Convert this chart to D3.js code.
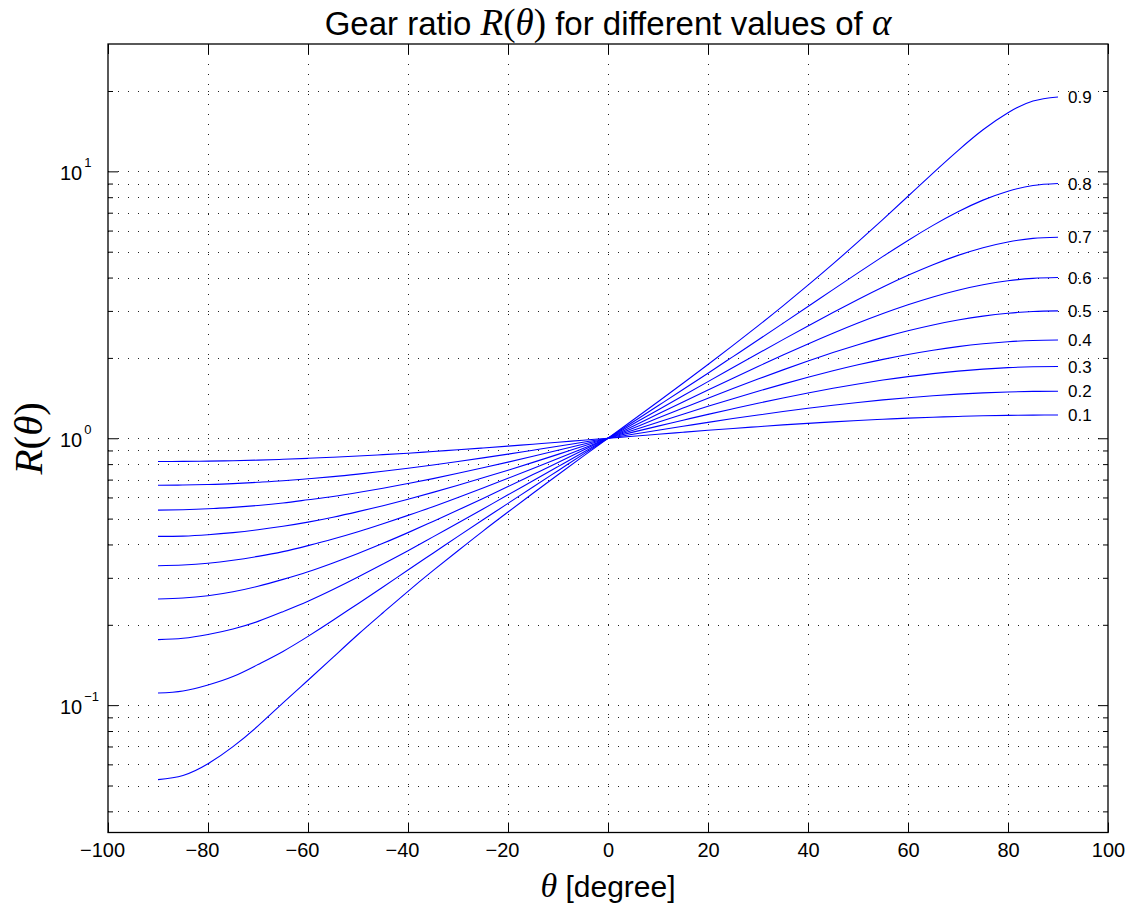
<!DOCTYPE html>
<html>
<head>
<meta charset="utf-8">
<script src="https://cdn.jsdelivr.net/npm/d3@7"></script>
<style>
  body { margin: 0; background: #fff; }
  svg { display: block; }
</style>
</head>
<body>
<svg id="chart" width="1132" height="907"></svg>
<script>
// ---- data ----
const thetaDeg = [-90, -85, -80, -75, -70, -65, -60, -55, -50, -45, -40, -35, -30, -25, -20, -15, -10, -5,
                  0, 5, 10, 15, 20, 25, 30, 35, 40, 45, 50, 55, 60, 65, 70, 75, 80, 85, 90];
const alphaValues = [0.1, 0.2, 0.3, 0.4, 0.5, 0.6, 0.7, 0.8, 0.9];
const ratioAlpha01 = [0.818, 0.819, 0.821, 0.824, 0.828, 0.834, 0.841, 0.849, 0.858, 0.868, 0.879, 0.892, 0.905, 0.919, 0.934, 0.950, 0.966, 0.983,
                      1, 1.018, 1.035, 1.053, 1.071, 1.088, 1.105, 1.122, 1.137, 1.152, 1.166, 1.178, 1.190, 1.199, 1.207, 1.214, 1.218, 1.221, 1.222];
const ratioAlpha02 = [0.667, 0.668, 0.671, 0.676, 0.684, 0.693, 0.705, 0.718, 0.734, 0.752, 0.772, 0.794, 0.818, 0.844, 0.872, 0.902, 0.933, 0.966,
                      1, 1.035, 1.072, 1.109, 1.147, 1.185, 1.222, 1.259, 1.295, 1.329, 1.362, 1.392, 1.419, 1.443, 1.463, 1.479, 1.491, 1.498, 1.500];
const ratioAlpha03 = [0.538, 0.540, 0.544, 0.551, 0.560, 0.572, 0.588, 0.605, 0.626, 0.650, 0.677, 0.706, 0.739, 0.775, 0.814, 0.856, 0.901, 0.949,
                      1, 1.054, 1.110, 1.168, 1.229, 1.290, 1.353, 1.416, 1.478, 1.539, 1.597, 1.652, 1.702, 1.747, 1.785, 1.816, 1.839, 1.852, 1.857];
const ratioAlpha04 = [0.429, 0.430, 0.435, 0.443, 0.454, 0.468, 0.485, 0.506, 0.531, 0.559, 0.591, 0.627, 0.667, 0.711, 0.759, 0.812, 0.870, 0.933,
                      1, 1.072, 1.149, 1.231, 1.317, 1.407, 1.500, 1.595, 1.692, 1.789, 1.884, 1.975, 2.060, 2.137, 2.204, 2.259, 2.300, 2.325, 2.333];
const ratioAlpha05 = [0.333, 0.335, 0.340, 0.349, 0.361, 0.376, 0.396, 0.419, 0.446, 0.478, 0.514, 0.554, 0.600, 0.651, 0.708, 0.771, 0.840, 0.916,
                      1, 1.091, 1.190, 1.297, 1.413, 1.536, 1.667, 1.804, 1.947, 2.094, 2.242, 2.387, 2.527, 2.657, 2.772, 2.868, 2.940, 2.985, 3.000];
const ratioAlpha06 = [0.250, 0.252, 0.257, 0.266, 0.279, 0.296, 0.316, 0.341, 0.370, 0.404, 0.443, 0.488, 0.538, 0.595, 0.659, 0.731, 0.811, 0.901,
                      1, 1.110, 1.233, 1.368, 1.516, 1.679, 1.857, 2.049, 2.256, 2.474, 2.701, 2.933, 3.163, 3.384, 3.585, 3.757, 3.889, 3.972, 4.000];
const ratioAlpha07 = [0.176, 0.178, 0.184, 0.193, 0.206, 0.224, 0.245, 0.271, 0.302, 0.338, 0.379, 0.427, 0.481, 0.543, 0.614, 0.693, 0.783, 0.885,
                      1, 1.130, 1.277, 1.443, 1.630, 1.840, 2.077, 2.342, 2.636, 2.960, 3.312, 3.688, 4.079, 4.471, 4.844, 5.176, 5.438, 5.608, 5.667];
const ratioAlpha08 = [0.111, 0.113, 0.119, 0.128, 0.142, 0.159, 0.181, 0.208, 0.240, 0.277, 0.321, 0.371, 0.429, 0.495, 0.570, 0.657, 0.756, 0.870,
                      1, 1.150, 1.323, 1.522, 1.753, 2.022, 2.333, 2.696, 3.117, 3.605, 4.166, 4.803, 5.511, 6.274, 7.056, 7.801, 8.427, 8.850, 9.000];
const ratioAlpha09 = [0.0526, 0.0545, 0.0603, 0.0699, 0.0836, 0.102, 0.124, 0.151, 0.184, 0.222, 0.267, 0.319, 0.379, 0.449, 0.529, 0.622, 0.730, 0.855,
                      1, 1.170, 1.370, 1.607, 1.889, 2.228, 2.636, 3.134, 3.745, 4.500, 5.440, 6.611, 8.067, 9.851, 11.96, 14.31, 16.59, 18.34, 19.00];
const seriesValues = [ratioAlpha01, ratioAlpha02, ratioAlpha03, ratioAlpha04, ratioAlpha05,
                      ratioAlpha06, ratioAlpha07, ratioAlpha08, ratioAlpha09];
const seriesLabels = ["0.1", "0.2", "0.3", "0.4", "0.5", "0.6", "0.7", "0.8", "0.9"];

const xTickValues = [-100, -80, -60, -40, -20, 0, 20, 40, 60, 80, 100];
const yMajorTicks = [0.1, 1, 10];
const yMajorExponents = ["\u22121", "0", "1"];
const yMinorTicks = [0.04, 0.05, 0.06, 0.07, 0.08, 0.09,
                     0.2, 0.3, 0.4, 0.5, 0.6, 0.7, 0.8, 0.9,
                     2, 3, 4, 5, 6, 7, 8, 9, 20];
const xDomain = [-100, 100];
const yDomain = [1 / 30, 30];

// ---- layout ----
const plot = { left: 108, right: 1108, top: 44, bottom: 832.5 };
const sansFont = "'Liberation Sans', Arial, Helvetica, sans-serif";
const serifFont = "'Liberation Serif', 'Times New Roman', serif";

const svg = d3.select("#chart");
const x = d3.scaleLinear().domain(xDomain).range([plot.left, plot.right]);
const y = d3.scaleLog().domain(yDomain).range([plot.bottom, plot.top]);

// ---- grid ----
const grid = svg.append("g").attr("class", "grid")
  .attr("stroke", "#222").attr("stroke-width", 1)
  .attr("stroke-dasharray", "1,9").attr("shape-rendering", "crispEdges");
grid.selectAll("line.gx").data(xTickValues.filter(v => v > xDomain[0] && v < xDomain[1]))
  .join("line").attr("class", "gx")
  .attr("x1", d => Math.round(x(d)) + 0.5).attr("x2", d => Math.round(x(d)) + 0.5)
  .attr("y1", plot.top).attr("y2", plot.bottom);
grid.selectAll("line.gy").data(yMajorTicks.concat(yMinorTicks))
  .join("line").attr("class", "gy")
  .attr("x1", plot.left).attr("x2", plot.right)
  .attr("y1", d => Math.round(y(d)) + 0.5).attr("y2", d => Math.round(y(d)) + 0.5);

// ---- curves ----
const line = d3.line()
  .x(d => x(d[0]))
  .y(d => y(d[1]))
  .curve(d3.curveNatural);

const curves = svg.append("g").attr("class", "curves");
seriesValues.forEach((vals, i) => {
  const pts = thetaDeg.map((t, k) => [t, vals[k]]);
  curves.append("path")
    .attr("d", line(pts))
    .attr("fill", "none")
    .attr("stroke", "#0000ff")
    .attr("stroke-width", 1.1);
  const last = pts[pts.length - 1];
  curves.append("text")
    .attr("x", x(last[0]) + 10)
    .attr("y", y(last[1]) + 6)
    .attr("font-family", sansFont)
    .attr("font-size", 17)
    .attr("fill", "#000")
    .text(seriesLabels[i]);
});

// ---- axes (ticks inward, box) ----
function styleAxis(g) {
  g.select(".domain").remove();
  g.selectAll(".tick line").attr("stroke", "#000").attr("stroke-width", 1);
}
const xFmt = d => (d < 0 ? "\u2212" + Math.abs(d) : String(d));

const xBottom = svg.append("g").attr("transform", `translate(0,${plot.bottom})`)
  .call(d3.axisBottom(x).tickValues(xTickValues).tickSizeInner(-10).tickSizeOuter(0)
    .tickPadding(10).tickFormat(xFmt));
styleAxis(xBottom);
xBottom.selectAll(".tick text")
  .attr("font-family", sansFont).attr("font-size", 20).attr("fill", "#000")
  .attr("dx", d => (d < 0 ? -6 : 0));

const xTop = svg.append("g").attr("transform", `translate(0,${plot.top})`)
  .call(d3.axisTop(x).tickValues(xTickValues).tickSizeInner(-10).tickSizeOuter(0).tickFormat(""));
styleAxis(xTop);

const yLeftMajor = svg.append("g").attr("transform", `translate(${plot.left},0)`)
  .call(d3.axisLeft(y).tickValues(yMajorTicks).tickSizeInner(-10).tickSizeOuter(0).tickFormat(""));
styleAxis(yLeftMajor);
const yLeftMinor = svg.append("g").attr("transform", `translate(${plot.left},0)`)
  .call(d3.axisLeft(y).tickValues(yMinorTicks).tickSizeInner(-5).tickSizeOuter(0).tickFormat(""));
styleAxis(yLeftMinor);
const yRightMajor = svg.append("g").attr("transform", `translate(${plot.right},0)`)
  .call(d3.axisRight(y).tickValues(yMajorTicks).tickSizeInner(-10).tickSizeOuter(0).tickFormat(""));
styleAxis(yRightMajor);
const yRightMinor = svg.append("g").attr("transform", `translate(${plot.right},0)`)
  .call(d3.axisRight(y).tickValues(yMinorTicks).tickSizeInner(-5).tickSizeOuter(0).tickFormat(""));
styleAxis(yRightMinor);

// y tick labels 10^n
const yLab = svg.append("g").attr("class", "ylabels");
yMajorTicks.forEach((v, i) => {
  const t = yLab.append("text")
    .attr("x", 60).attr("y", y(v) + 8.5)
    .attr("font-family", sansFont).attr("font-size", 20).attr("fill", "#000");
  t.append("tspan").text("10");
  t.append("tspan").attr("font-size", 13).attr("dx", 2).attr("dy", -12.5).text(yMajorExponents[i]);
});

// frame
svg.append("rect")
  .attr("x", plot.left).attr("y", plot.top)
  .attr("width", plot.right - plot.left).attr("height", plot.bottom - plot.top)
  .attr("fill", "none").attr("stroke", "#000").attr("stroke-width", 1.3);

// ---- title ----
const title = svg.append("text")
  .attr("x", (plot.left + plot.right) / 2).attr("y", 35)
  .attr("text-anchor", "middle").attr("fill", "#000")
  .attr("font-family", sansFont).attr("font-size", 33);
title.append("tspan").text("Gear ratio ");
title.append("tspan").attr("font-family", serifFont).attr("font-style", "italic").attr("font-size", 37).text("R");
title.append("tspan").attr("font-family", serifFont).attr("font-size", 37).text("(");
title.append("tspan").attr("font-family", serifFont).attr("font-style", "italic").attr("font-size", 37).text("\u03B8");
title.append("tspan").attr("font-family", serifFont).attr("font-size", 37).text(")");
title.append("tspan").text(" for different values of ");
title.append("tspan").attr("font-family", serifFont).attr("font-style", "italic").attr("font-size", 37).text("\u03B1");

// ---- x axis label ----
const xLabel = svg.append("text")
  .attr("x", (plot.left + plot.right) / 2).attr("y", 897)
  .attr("text-anchor", "middle").attr("fill", "#000")
  .attr("font-family", sansFont).attr("font-size", 30);
xLabel.append("tspan").attr("font-family", serifFont).attr("font-style", "italic").attr("font-size", 34).text("\u03B8");
xLabel.append("tspan").text(" [degree]");

// ---- y axis label ----
const yLabel = svg.append("text")
  .attr("transform", `translate(42,${(plot.top + plot.bottom) / 2}) rotate(-90)`)
  .attr("text-anchor", "middle").attr("fill", "#000")
  .attr("font-family", serifFont).attr("font-size", 41);
yLabel.append("tspan").attr("font-style", "italic").text("R");
yLabel.append("tspan").text("(");
yLabel.append("tspan").attr("font-style", "italic").text("\u03B8");
yLabel.append("tspan").text(")");
</script>
</body>
</html>
